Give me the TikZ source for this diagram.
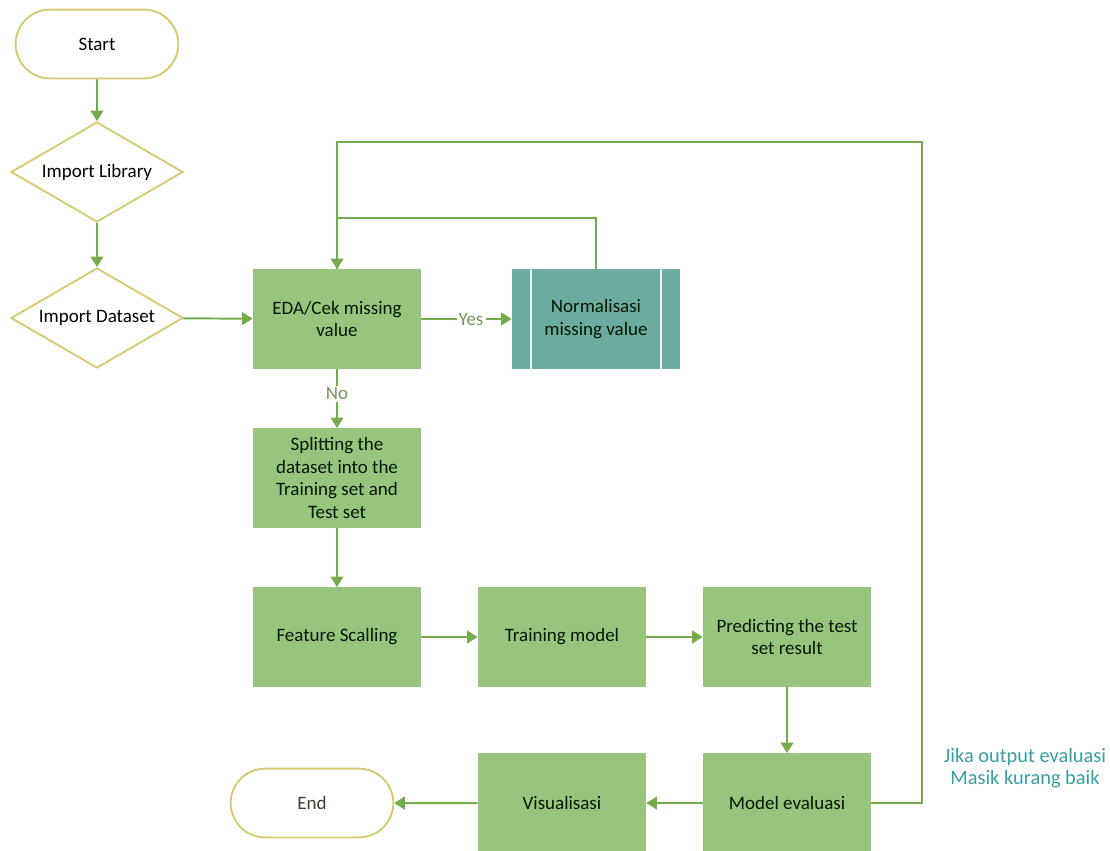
\documentclass[tikz,border=0pt]{standalone}
\usepackage{fontspec}
\setmainfont{Carlito}
\usepackage{tikz}
\usetikzlibrary{shapes.geometric,shapes.misc,arrows.meta}
\definecolor{FlowGreen}{RGB}{116,172,76}
\definecolor{BoxGreen}{RGB}{151,197,126}
\definecolor{TermYellow}{RGB}{214,200,110}
\definecolor{ProcTeal}{RGB}{108,171,160}
\definecolor{NoteTeal}{RGB}{56,158,160}
\definecolor{LabelGreen}{RGB}{118,150,90}

\begin{document}
\begin{tikzpicture}[x=0.025cm,y=-0.025cm,font=\fontsize{13.5}{16}\selectfont,
  term/.style={rounded rectangle,draw=TermYellow,line width=1.3pt,fill=white,minimum width=4.3cm,minimum height=1.72cm},
  dec/.style={diamond,draw=TermYellow,line width=1.3pt,fill=white,shape aspect=1.7,inner sep=0pt,minimum width=4.3cm,minimum height=2.5cm},
  proc/.style={rectangle,fill=BoxGreen,minimum width=4.2cm,minimum height=2.48cm,align=center,text=black!90!green},
  flow/.style={draw=FlowGreen,line width=1.4pt,-{Triangle[length=7.5pt,width=9pt]}},
  line/.style={draw=FlowGreen,line width=1.4pt},
  lbl/.style={fill=white,inner sep=1.5pt,text=LabelGreen}]
\useasboundingbox (0,0) rectangle (1110,850);
% terminators and decisions
\node[term](start) at (97,44) {Start};
\node[dec](implib) at (97,172) {Import Library};
\node[dec](impdata) at (97,318) {Import Dataset};
\node[term,text=black!70!olive](stop) at (312,803) {End};
% process boxes
\node[proc](eda) at (337,319) {EDA/Cek missing\\ value};
\node[proc,fill=ProcTeal](norm) at (596,319) {Normalisasi\\ missing value};
\draw[white!85!ProcTeal,line width=1.2pt] ([xshift=0.475cm]norm.north west) -- ([xshift=0.475cm]norm.south west);
\draw[white!85!ProcTeal,line width=1.2pt] ([xshift=-0.475cm]norm.north east) -- ([xshift=-0.475cm]norm.south east);
\node[proc](split) at (337,478) {Splitting the\\ dataset into the\\ Training set and\\ Test set};
\node[proc](scale) at (337,637) {Feature Scalling};
\node[proc](train) at (562,637) {Training model};
\node[proc](pred) at (787,637) {Predicting the test\\ set result};
\node[proc](eval) at (787,803) {Model evaluasi};
\node[proc](vis) at (562,803) {Visualisasi};
\node[text=NoteTeal,align=center,font=\fontsize{14.5}{16}\selectfont](note) at (1025,768) {Jika output evaluasi\\ Masik kurang baik};
% connectors
\draw[flow] (start) -- (implib);
\draw[flow] (implib) -- (impdata);
\draw[flow] (impdata) -- (eda);
\draw[flow] (eda) -- node[lbl,pos=0.55]{Yes} (norm);
\draw[flow] (eda) -- node[lbl,pos=0.42]{No} (split);
\draw[flow] (split) -- (scale);
\draw[flow] (scale) -- (train);
\draw[flow] (train) -- (pred);
\draw[flow] (pred) -- (eval);
\draw[flow] (eval) -- (vis);
\draw[flow] (vis) -- (stop);
\coordinate (normup) at (596,218);
\coordinate (back) at (922,142);
\draw[line] (norm.north) -- (normup) -| (eda.north);
\draw[flow] (eval.east) -| (back) -| (eda.north);
\end{tikzpicture}
\end{document}
